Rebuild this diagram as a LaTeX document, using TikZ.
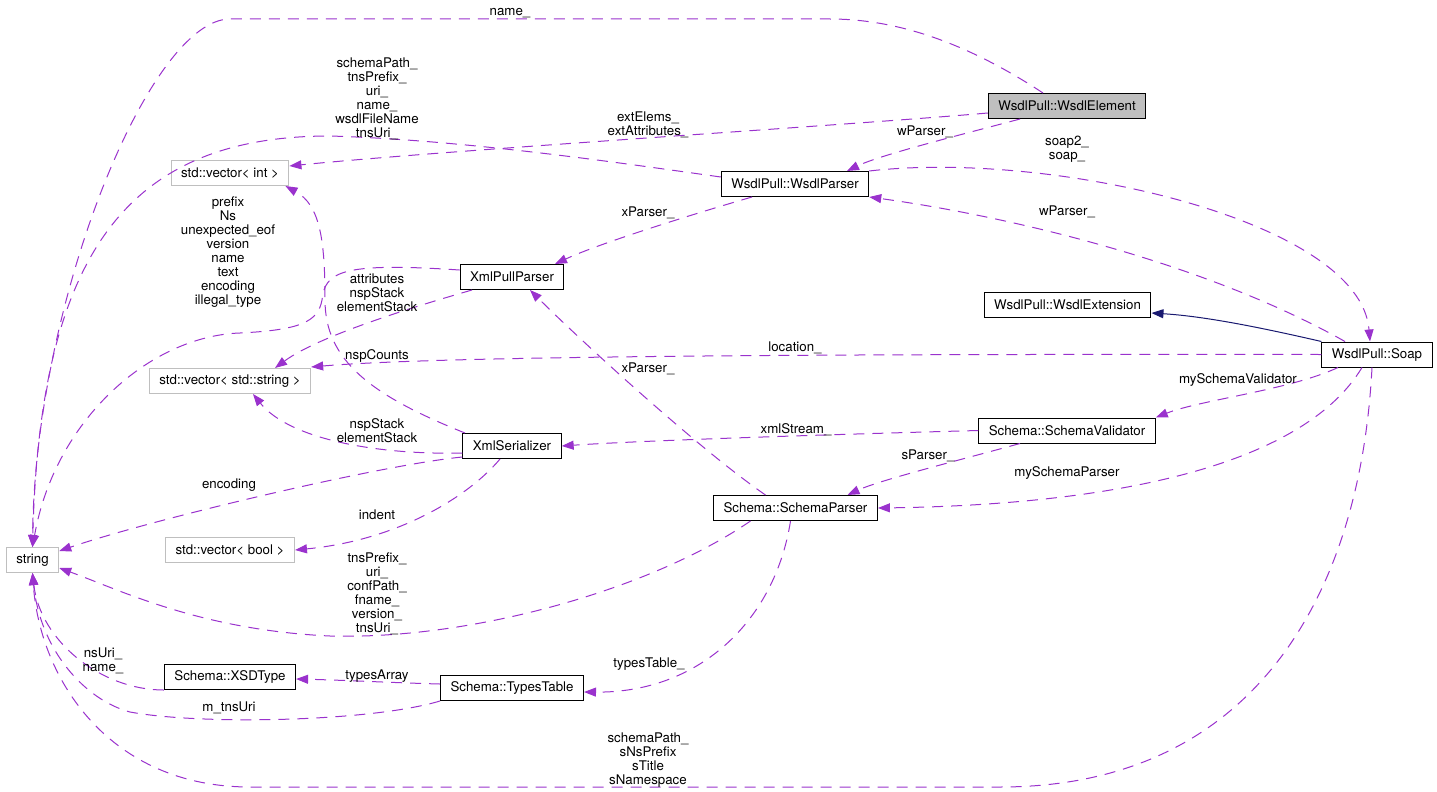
\documentclass[tikz,border=0pt]{standalone}
\usepackage{fontspec}
\setmainfont{TeX Gyre Heros}
\usetikzlibrary{arrows.meta}
\definecolor{orchid}{HTML}{9A32CD}
\definecolor{navy}{HTML}{191970}
\definecolor{grey75}{HTML}{BFBFBF}

\begin{document}
\begin{tikzpicture}[x=100pt,y=-100pt,font=\fontsize{13.3}{14}\selectfont,
  >={Triangle[length=12pt,width=9pt]},
  cls/.style={draw,line width=1pt,minimum height=25pt,inner xsep=10pt,inner ysep=0pt},
  undoc/.style={cls,draw=grey75},
  dep/.style={->,orchid,line width=1pt,dash pattern=on 11pt off 8pt},
  inh/.style={->,navy,line width=1pt},
  lbl/.style={align=center,inner sep=0pt}]
  \useasboundingbox (0,0) rectangle (14.37,7.92);

  % classes
  \node[cls,fill=grey75] (elem) at (10.67,1.06) {WsdlPull::WsdlElement};
  \node[cls] (ext) at (10.675,3.05) {WsdlPull::WsdlExtension};
  \node[cls] (parser) at (7.95,1.84) {WsdlPull::WsdlParser};
  \node[cls] (pull) at (5.12,2.77) {XmlPullParser};
  \node[cls] (ser) at (5.12,4.46) {XmlSerializer};
  \node[undoc] (vint) at (2.30,1.73) {std::vector< int >};
  \node[undoc] (vstr) at (2.30,3.81) {std::vector< std::string >};
  \node[undoc] (str) at (0.325,5.60) {string};
  \node[undoc] (vbool) at (2.30,5.50) {std::vector< bool >};
  \node[cls] (soap) at (13.77,3.545) {WsdlPull::Soap};
  \node[cls] (valid) at (10.67,4.305) {Schema::SchemaValidator};
  \node[cls] (sparser) at (7.955,5.08) {Schema::SchemaParser};
  \node[cls] (xsd) at (2.30,6.77) {Schema::XSDType};
  \node[cls] (tt) at (5.12,6.88) {Schema::TypesTable};

  % usage relations
  \draw[dep] ([xshift=-24pt]elem.north) .. controls (9.7,0.45) and (9.0,0.19) .. (8.3,0.19)
    -- (2.3,0.19) .. controls (1.5,0.19) and (0.35,3.0) .. (str.north);
  \draw[dep] ([yshift=7pt]parser.west) .. controls (6.0,1.6) and (4.6,1.4) .. (3.3,1.36)
    .. controls (1.3,1.36) and (0.4,2.5) .. (str.north);
  \draw[dep] ([yshift=-7pt]elem.west) .. controls (8.5,1.25) and (4.5,1.5) .. ([yshift=7pt]vint.east);
  \draw[dep] ([xshift=-47pt]elem.south) .. controls (9.6,1.35) and (8.8,1.55) .. ([xshift=52pt]parser.north);
  \draw[dep] ([xshift=-43pt]parser.south) .. controls (7.0,2.12) and (6.0,2.43) .. ([xshift=43pt]pull.north);
  \draw[dep] (parser.north east) .. controls (10.5,1.5) and (13.6,2.2) .. ([xshift=-7pt]soap.north);
  \draw[dep] ([xshift=-32pt]soap.north) .. controls (12.0,2.6) and (10.0,2.15) .. (parser.south east);
  \draw[inh] (soap.north west) .. controls (12.5,3.25) and (12.0,3.16) .. ([yshift=-8pt]ext.east);
  \draw[dep] (soap.west) .. controls (9.0,3.54) and (4.5,3.55) .. ([yshift=14pt]vstr.east);
  \draw[dep] ([yshift=7pt]pull.west) .. controls (3.4,2.62) and (3.25,2.72) .. (3.22,3.0)
    .. controls (3.18,3.22) and (3.0,3.3) .. (2.4,3.33)
    .. controls (1.5,3.36) and (0.55,4.2) .. (str.north);
  \draw[dep] ([xshift=-40pt]pull.south) .. controls (4.2,3.05) and (3.2,3.35) .. ([xshift=45pt]vstr.north);
  \draw[dep] ([xshift=-47pt]ser.north) .. controls (3.7,3.95) and (3.25,3.6) .. (3.25,3.0)
    .. controls (3.25,2.4) and (3.2,2.05) .. ([xshift=-4pt]vint.south east);
  \draw[dep] ([yshift=-7pt]ser.west) .. controls (3.8,4.55) and (2.9,4.4) .. ([xshift=23pt]vstr.south);
  \draw[dep] ([yshift=-11pt]ser.west) .. controls (3.8,4.65) and (1.5,5.2) .. ([yshift=9pt]str.east);
  \draw[dep] ([xshift=-12pt]ser.south) .. controls (4.7,4.95) and (4.0,5.4) .. (vbool.east);
  \draw[dep] ([xshift=-30pt]sparser.north) .. controls (7.0,4.5) and (5.8,3.4) .. ([xshift=18pt]pull.south);
  \draw[dep] (valid.west) .. controls (8.5,4.34) and (6.5,4.4) .. (ser.east);
  \draw[dep] ([xshift=-47pt]valid.south) .. controls (9.6,4.6) and (8.8,4.8) .. ([xshift=52pt]sparser.north);
  \draw[dep] ([xshift=-39pt]soap.south) .. controls (12.9,3.9) and (12.0,4.0) .. (valid.north east);
  \draw[dep] ([xshift=-15pt]soap.south) .. controls (13.0,4.7) and (11.0,5.05) .. (sparser.east);
  \draw[dep] ([xshift=-5pt]soap.south) .. controls (13.6,6.0) and (12.5,7.87) .. (10.0,7.87)
    -- (2.5,7.87) .. controls (1.1,7.87) and (0.4,6.8) .. (str.south);
  \draw[dep] ([xshift=-45pt]sparser.south) .. controls (6.5,5.9) and (4.7,6.4) .. (3.3,6.36)
    .. controls (2.0,6.3) and (1.2,5.9) .. ([yshift=-8pt]str.east);
  \draw[dep] ([xshift=-5pt]sparser.south) .. controls (7.75,6.2) and (7.0,6.93) .. ([yshift=-4pt]tt.east);
  \draw[dep] ([yshift=4pt]tt.west) .. controls (4.0,6.83) and (3.4,6.8) .. ([yshift=-2pt]xsd.east);
  \draw[dep] (xsd.south west) .. controls (1.0,6.9) and (0.4,6.4) .. (str.south);
  \draw[dep] (tt.south west) .. controls (3.7,7.22) and (2.0,7.25) .. (1.3,7.12)
    .. controls (0.85,7.0) and (0.4,6.5) .. (str.south);

  % member names
  \node[lbl] (lname) at (5.10,0.13) {name\_};
  \node[lbl] (lparserstr) at (3.77,0.993) {schemaPath\_\\tnsPrefix\_\\uri\_\\name\_\\wsdlFileName\\tnsUri\_};
  \node[lbl] (lext) at (6.48,1.25) {extElems\_\\extAttributes\_};
  \node[lbl] (lwp) at (9.25,1.32) {wParser\_};
  \node[lbl] (lsoap) at (10.67,1.49) {soap2\_\\soap\_};
  \node[lbl] (lxp) at (6.48,2.13) {xParser\_};
  \node[lbl] (lwp2) at (10.67,2.12) {wParser\_};
  \node[lbl] (lpullstr) at (2.28,2.523) {prefix\\Ns\\unexpected\_eof\\version\\name\\text\\encoding\\illegal\_type};
  \node[lbl] (lattr) at (3.77,2.93) {attributes\\nspStack\\elementStack};
  \node[lbl] (lnsp) at (3.77,3.56) {nspCounts};
  \node[lbl] (lloc) at (7.95,3.48) {location\_};
  \node[lbl] (lxp2) at (6.48,3.69) {xParser\_};
  \node[lbl] (lmsv) at (12.38,3.80) {mySchemaValidator};
  \node[lbl] (lstack) at (3.77,4.31) {nspStack\\elementStack};
  \node[lbl] (lxml) at (7.96,4.30) {xmlStream\_};
  \node[lbl] (lsp) at (9.28,4.56) {sParser\_};
  \node[lbl] (lmsp) at (10.67,4.73) {mySchemaParser};
  \node[lbl] (lenc) at (2.29,4.85) {encoding};
  \node[lbl] (lind) at (3.77,5.15) {indent};
  \node[lbl] (lspstr) at (3.77,5.935) {tnsPrefix\_\\uri\_\\confPath\_\\fname\_\\version\_\\tnsUri\_};
  \node[lbl] (lxsd) at (1.03,6.61) {nsUri\_\\name\_};
  \node[lbl] (ltt) at (6.49,6.64) {typesTable\_};
  \node[lbl] (lta) at (3.77,6.76) {typesArray};
  \node[lbl] (lmt) at (2.29,7.08) {m\_tnsUri};
  \node[lbl] (lsoapstr) at (6.48,7.60) {schemaPath\_\\sNsPrefix\\sTitle\\sNamespace};
\end{tikzpicture}
\end{document}
